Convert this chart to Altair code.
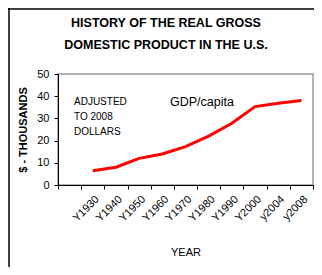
import altair as alt
import pandas as pd

categories = ["", "Y1930", "Y1940", "Y1950", "Y1960", "Y1970", "Y1980", "Y1990", "Y2000", "y2004", "y2008"]
years = ["Y1930", "Y1940", "Y1950", "Y1960", "Y1970", "Y1980", "Y1990", "Y2000", "y2004", "y2008"]
gdp = [6.4, 8.0, 12.0, 14.0, 17.3, 22.0, 27.8, 35.3, 36.8, 38.1]
title_lines = ["HISTORY OF THE REAL GROSS", "DOMESTIC PRODUCT IN THE U.S."]
note_lines = ["ADJUSTED", "TO 2008", "DOLLARS"]

df = pd.DataFrame({"year": years, "gdp": gdp})

FONT = "Liberation Sans"

x_enc = alt.X("year:N", sort=categories,
              scale=alt.Scale(domain=categories, paddingInner=0, paddingOuter=0),
              axis=alt.Axis(title="YEAR", labelAngle=-45, tickBand="extent",
                            labelFontSize=11, titleFontSize=11, titleFontWeight="normal",
                            titlePadding=23, labelPadding=4, tickSize=4,
                            domainColor="black", tickColor="black", labelColor="black",
                            titleColor="black"))
y_enc = alt.Y("gdp:Q", scale=alt.Scale(domain=[0, 50]),
              axis=alt.Axis(title="$ - THOUSANDS", values=[0, 10, 20, 30, 40, 50],
                            grid=False, tickSize=4, labelPadding=5, labelFontSize=11,
                            titleFontSize=11, titleFontWeight="bold", titlePadding=8,
                            domainColor="black", tickColor="black", labelColor="black",
                            titleColor="black"))

line = alt.Chart(df).mark_line(color="#ff0000", strokeWidth=3).encode(x=x_enc, y=y_enc)

notes = pd.DataFrame({"t": note_lines, "yy": [28, 43, 58]})
note_text = alt.Chart(notes).mark_text(align="left", baseline="middle", fontSize=10,
                                        font=FONT, color="black").encode(
    x=alt.value(16), y=alt.Y("yy:Q", scale=None), text="t:N")

gdp_label = alt.Chart(pd.DataFrame({"t": ["GDP/capita"]})).mark_text(
    align="left", baseline="middle", fontSize=12.5, font=FONT, color="black").encode(
    x=alt.value(112), y=alt.value(28), text="t:N")

titles = pd.DataFrame({"t": title_lines, "yy": [-51, -29]})
title_text = alt.Chart(titles).mark_text(align="center", baseline="middle", fontSize=12.5,
                                          fontWeight="bold", font=FONT, color="black").encode(
    x=alt.value(108), y=alt.Y("yy:Q", scale=None), text="t:N")

frame_v = alt.Chart(pd.DataFrame({"a": [0]})).mark_rule(color="black", strokeWidth=1.5).encode(
    x=alt.value(-49), y=alt.value(-66), y2=alt.value(201))
frame_h = alt.Chart(pd.DataFrame({"a": [0]})).mark_rule(color="black", strokeWidth=1.5).encode(
    x=alt.value(-50), x2=alt.value(256), y=alt.value(-65))

chart = alt.layer(line, note_text, gdp_label, title_text, frame_v, frame_h).properties(
    width=255, height=111,
    autosize=alt.AutoSizeParams(type="none"),
    padding={"left": 50, "top": 66, "right": 1, "bottom": 82},
).configure(font=FONT).configure_view(stroke="#999999", strokeWidth=1.5).configure_axis(
    labelFont=FONT, titleFont=FONT)

chart.save("out.html", embed_options={"renderer": "svg", "actions": False})
